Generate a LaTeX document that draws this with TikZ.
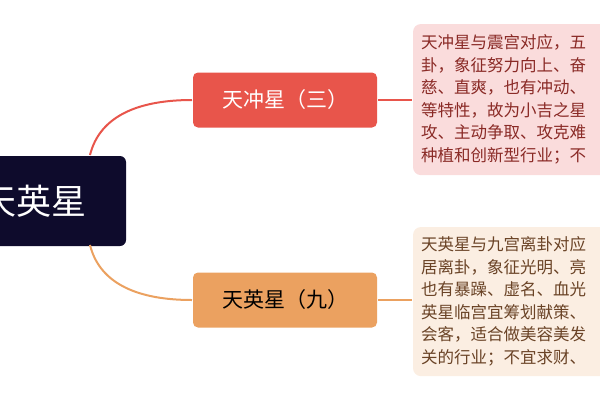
\documentclass[tikz,border=0pt]{standalone}
\usepackage{fontspec}
\setmainfont{Noto Sans CJK SC}
\usetikzlibrary{positioning}
\definecolor{rootc}{HTML}{0E0B2C}
\definecolor{redc}{HTML}{E8554B}
\definecolor{orac}{HTML}{EBA160}
\definecolor{pinkbg}{HTML}{FADCDC}
\definecolor{orabg}{HTML}{FBEEE2}
\definecolor{redtx}{HTML}{8A2A26}
\definecolor{oratx}{HTML}{6A4326}
\tikzset{branch/.style={rounded corners=5pt, minimum width=184pt, minimum height=55pt, font=\fontsize{21}{24}\selectfont},
  note/.style={rounded corners=8pt, anchor=north west, align=left, inner sep=8pt, text width=230pt, font=\fontsize{16.5}{22.5}\selectfont}}
\begin{document}
\begin{tikzpicture}[x=1pt, y=-1pt, line width=2pt]
\useasboundingbox (0,0) rectangle (600,400);
\clip (0,0) rectangle (600,400);
\node (root) [fill=rootc, rounded corners=6pt, minimum width=160pt, minimum height=90pt, anchor=north east, text=white, font=\fontsize{35}{40}\selectfont] at (127,155) {\hspace*{-24pt}天英星};
\node (chong) [branch, fill=redc, text=white] at (285,100) {天冲星（三）};
\node (ying) [branch, fill=orac, text=black] at (285,300) {天英星（九）};
\node (chongtxt) [note, fill=pinkbg, text=redtx, inner ysep=11pt] at (412,23) {天冲星与震宫对应，五\\卦，象征努力向上、奋\\慈、直爽，也有冲动、\\等特性，故为小吉之星\\攻、主动争取、攻克难\\种植和创新型行业；不};
\node (yingtxt) [note, fill=orabg, text=oratx, inner ysep=10pt] at (412,226) {天英星与九宫离卦对应\\居离卦，象征光明、亮\\也有暴躁、虚名、血光\\英星临宫宜筹划献策、\\会客，适合做美容美发\\关的行业；不宜求财、};
\draw [redc] (90,155) .. controls (100,115) and (140,100) .. (chong.west);
\draw [orac] (90,245) .. controls (100,285) and (140,300) .. (ying.west);
\draw [redc] (chong.east) -- (chongtxt.west |- chong.east);
\draw [orac] (ying.east) -- (yingtxt.west |- ying.east);
\end{tikzpicture}
\end{document}
